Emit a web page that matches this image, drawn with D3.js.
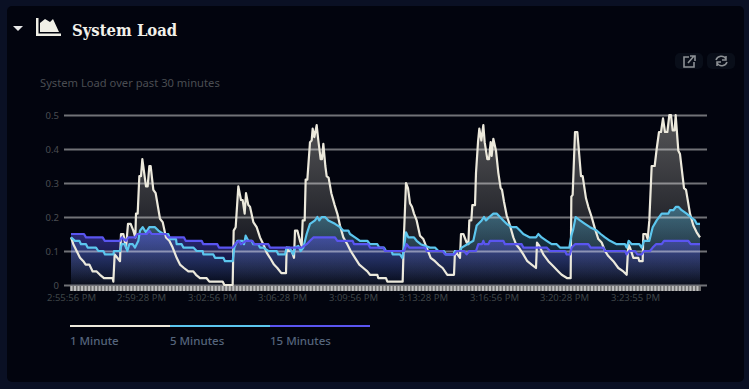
<!DOCTYPE html>
<html>
<head>
<meta charset="utf-8">
<script src="https://cdnjs.cloudflare.com/ajax/libs/d3/7.8.5/d3.min.js"></script>
<style>
  html, body { margin: 0; padding: 0; background: #0a1024; overflow: hidden; }
  text { font-family: "Noto Sans", "Open Sans", sans-serif; }
</style>
</head>
<body>
<div id="chart"></div>
<script>
// [elapsed, load], elapsed counts thirds of a pixel along the time axis
var oneMinute = [[0,.14],[7,.12],[17,.10],[27,.08],[37,.07],[44,.06],[55,.06],[65,.04],[77,.04],[87,.03],[99,.02],[125,.02],[127,.01],[131,.09],[139,.08],[147,.07],[150,.15],[157,.15],[165,.11],[171,.18],[179,.18],[187,.16],[193,.14],[195,.21],[200,.21],[205,.32],[210,.32],[214,.37],[225,.29],[230,.29],[235,.35],[239,.35],[247,.28],[254,.27],[267,.195],[275,.185],[285,.14],[295,.13],[305,.11],[317,.08],[327,.06],[339,.05],[352,.04],[367,.04],[375,.03],[387,.02],[407,.02],[415,.01],[455,.01],[460,0],[485,0],[488,.16],[494,.17],[502,.29],[510,.25],[515,.25],[521,.21],[525,.27],[532,.235],[537,.23],[547,.185],[557,.17],[567,.14],[577,.12],[587,.095],[597,.08],[609,.06],[619,.05],[631,.035],[645,.035],[647,.11],[652,.10],[662,.10],[669,.08],[672,.16],[679,.16],[687,.13],[692,.115],[695,.19],[701,.19],[704,.31],[709,.31],[717,.42],[722,.425],[725,.46],[730,.435],[737,.47],[742,.425],[749,.37],[753,.37],[757,.415],[763,.35],[767,.32],[773,.315],[781,.27],[791,.235],[799,.21],[807,.175],[817,.14],[829,.12],[839,.10],[852,.08],[865,.06],[877,.05],[889,.04],[897,.03],[919,.03],[922,.02],[945,.02],[949,.01],[995,.01],[999,.15],[1005,.30],[1011,.285],[1017,.24],[1023,.23],[1029,.21],[1037,.19],[1047,.145],[1057,.135],[1067,.11],[1079,.08],[1092,.07],[1102,.06],[1115,.05],[1129,.03],[1149,.03],[1152,.10],[1167,.08],[1170,.15],[1177,.15],[1187,.125],[1192,.12],[1195,.19],[1201,.19],[1204,.235],[1212,.235],[1215,.33],[1221,.42],[1225,.46],[1231,.425],[1237,.47],[1241,.42],[1249,.37],[1254,.37],[1259,.42],[1262,.38],[1267,.43],[1275,.395],[1282,.33],[1289,.285],[1293,.28],[1299,.245],[1307,.205],[1317,.175],[1327,.14],[1335,.12],[1347,.105],[1357,.09],[1369,.07],[1382,.06],[1395,.05],[1398,.125],[1405,.115],[1417,.09],[1432,.07],[1447,.055],[1462,.04],[1472,.03],[1489,.02],[1499,.02],[1501,.26],[1505,.265],[1512,.45],[1519,.45],[1525,.38],[1530,.32],[1535,.32],[1545,.255],[1552,.23],[1562,.20],[1572,.165],[1582,.135],[1592,.125],[1602,.10],[1612,.085],[1627,.07],[1642,.05],[1657,.04],[1667,.03],[1672,.12],[1677,.11],[1687,.08],[1702,.08],[1705,.07],[1715,.07],[1717,.15],[1725,.15],[1730,.135],[1735,.19],[1742,.35],[1751,.35],[1757,.40],[1764,.45],[1770,.45],[1776,.49],[1782,.45],[1789,.45],[1795,.50],[1800,.50],[1805,.455],[1811,.455],[1814,.50],[1822,.395],[1827,.385],[1839,.285],[1845,.28],[1857,.21],[1867,.175],[1877,.155],[1887,.14]];

var fiveMinutes = [[0,.14],[12,.13],[25,.13],[30,.12],[45,.12],[50,.11],[75,.11],[82,.10],[97,.10],[102,.09],[127,.09],[129,.10],[147,.10],[152,.12],[162,.12],[169,.10],[175,.12],[185,.12],[192,.11],[202,.13],[207,.16],[215,.17],[225,.155],[235,.17],[252,.17],[262,.16],[277,.15],[292,.15],[297,.135],[315,.135],[317,.12],[332,.12],[337,.11],[367,.11],[377,.10],[395,.10],[397,.09],[427,.09],[432,.08],[457,.08],[462,.07],[485,.07],[490,.11],[499,.13],[514,.13],[519,.12],[524,.145],[532,.13],[542,.13],[547,.12],[562,.12],[567,.11],[577,.11],[592,.10],[617,.10],[622,.09],[642,.09],[647,.11],[655,.11],[667,.09],[672,.11],[682,.115],[689,.10],[697,.11],[707,.15],[717,.18],[732,.19],[739,.20],[745,.19],[752,.20],[762,.20],[772,.19],[792,.18],[807,.17],[817,.16],[832,.16],[837,.15],[852,.14],[867,.13],[889,.13],[897,.12],[919,.12],[925,.11],[939,.11],[945,.10],[962,.10],[965,.09],[987,.09],[994,.08],[999,.11],[1005,.155],[1012,.14],[1029,.14],[1037,.13],[1049,.12],[1077,.11],[1092,.11],[1102,.10],[1119,.10],[1125,.09],[1147,.09],[1152,.10],[1167,.10],[1172,.11],[1189,.12],[1207,.13],[1217,.175],[1232,.19],[1239,.20],[1245,.19],[1255,.20],[1267,.21],[1277,.21],[1287,.20],[1297,.19],[1307,.18],[1322,.17],[1337,.17],[1347,.16],[1357,.15],[1377,.14],[1395,.14],[1402,.15],[1412,.14],[1427,.13],[1442,.12],[1457,.12],[1467,.11],[1495,.11],[1501,.145],[1507,.165],[1514,.20],[1527,.19],[1542,.18],[1557,.17],[1577,.16],[1589,.15],[1602,.14],[1617,.13],[1637,.12],[1662,.12],[1667,.11],[1673,.13],[1682,.12],[1705,.12],[1712,.11],[1719,.13],[1735,.13],[1745,.17],[1757,.19],[1772,.21],[1792,.21],[1797,.22],[1807,.22],[1815,.23],[1822,.23],[1832,.22],[1847,.21],[1859,.20],[1872,.19],[1877,.18],[1887,.18]];

var fifteenMinutes = [[0,.15],[39,.15],[45,.14],[95,.14],[101,.13],[147,.13],[152,.14],[165,.13],[172,.14],[192,.14],[199,.15],[227,.15],[235,.16],[242,.15],[285,.15],[292,.14],[339,.14],[344,.13],[392,.13],[397,.12],[439,.12],[444,.11],[485,.11],[497,.125],[504,.13],[510,.12],[525,.13],[544,.13],[550,.12],[592,.12],[597,.11],[692,.11],[707,.12],[717,.13],[727,.14],[792,.14],[799,.13],[845,.13],[849,.12],[892,.12],[897,.11],[937,.11],[942,.10],[999,.10],[1007,.12],[1015,.11],[1062,.11],[1067,.10],[1115,.10],[1122,.09],[1150,.09],[1157,.10],[1179,.10],[1187,.09],[1195,.10],[1215,.10],[1222,.12],[1233,.12],[1237,.13],[1241,.12],[1252,.12],[1257,.13],[1297,.13],[1302,.12],[1352,.12],[1357,.11],[1427,.11],[1437,.10],[1482,.10],[1487,.09],[1497,.09],[1502,.11],[1512,.12],[1552,.12],[1559,.11],[1597,.11],[1602,.10],[1662,.10],[1667,.09],[1674,.10],[1692,.10],[1699,.09],[1712,.09],[1719,.10],[1737,.10],[1745,.11],[1755,.12],[1772,.12],[1779,.13],[1852,.13],[1859,.12],[1887,.12]];

var timeTicks = [0,210,423,633,846,1056,1269,1479,1692];
var timeLabels = ['2:55:56 PM','2:59:28 PM','3:02:56 PM','3:06:28 PM','3:09:56 PM','3:13:28 PM','3:16:56 PM','3:20:28 PM','3:23:55 PM'];
var loadTicks = [0,0.1,0.2,0.3,0.4,0.5];
var seriesNames = ['1 Minute','5 Minutes','15 Minutes'];
var seriesColors = ['#ece9dc','#5cc6ee','#5a55f0'];
var seriesData = [oneMinute, fiveMinutes, fifteenMinutes];

var svg = d3.select("#chart").append("svg")
  .attr("width", 749)
  .attr("height", 389)
  .style("display", "block");

// card
svg.append("rect").attr("x", 7).attr("y", 6).attr("width", 737).attr("height", 376).attr("rx", 5).attr("fill", "#02040e");

// header
svg.append("path").attr("d", "M13 26h10l-5 5z").attr("fill", "#e8e8e8");
svg.append("path").attr("d", "M36 18h2.5v15.5H61V36H36z").attr("fill", "#f0efe6");
svg.append("path").attr("d", "M40 32v-9l5-4 5 3 3-3 6 13z").attr("fill", "#f0efe6");
svg.append("text").attr("x", 72).attr("y", 36)
  .style("font-family", "'DejaVu Serif Condensed', 'DejaVu Serif', serif")
  .style("font-weight", "bold").style("font-size", "16.5px")
  .attr("fill", "#f2f1ea").text("System Load");
svg.append("text").attr("x", 40).attr("y", 87)
  .style("font-size", "11.2px").attr("fill", "#4a4d52")
  .text("System Load over past 30 minutes");

// the two buttons top right
svg.append("rect").attr("x", 675).attr("y", 53).attr("width", 28).attr("height", 16).attr("rx", 5).attr("fill", "#090e19");
svg.append("rect").attr("x", 707).attr("y", 53).attr("width", 28).attr("height", 16).attr("rx", 5).attr("fill", "#090e19");
svg.append("path").attr("d", "M689 57h-5v10h10v-5M688 63l6-7M690 56h5v5")
  .attr("fill", "none").attr("stroke", "#8e9296").attr("stroke-width", 1.6);
svg.append("path").attr("d", "M716 60a5.5 5.5 0 0 1 10-1M726 56v4h-4M727 62a5.5 5.5 0 0 1-10 1M717 66v-4h4")
  .attr("fill", "none").attr("stroke", "#8e9296").attr("stroke-width", 1.5);

// scales
var x = d3.scaleLinear().domain([0, 1887]).range([71, 700]);
var y = d3.scaleLinear().domain([0, 0.5]).range([285, 115]);

var defs = svg.append("defs");
var fillTop = [0.36, 0.4, 0.5];
seriesColors.forEach(function(c, i) {
  var g = defs.append("linearGradient")
    .attr("id", "fade" + i)
    .attr("gradientUnits", "userSpaceOnUse")
    .attr("x1", 0).attr("x2", 0)
    .attr("y1", y(d3.max(seriesData[i], function(d) { return d[1]; })))
    .attr("y2", y(0));
  g.append("stop").attr("offset", "0%").attr("stop-color", c).attr("stop-opacity", fillTop[i]);
  g.append("stop").attr("offset", "100%").attr("stop-color", c).attr("stop-opacity", 0.02);
});

var area = d3.area()
  .x(function(d) { return x(d[0]); })
  .y0(y(0))
  .y1(function(d) { return y(d[1]); });
var line = d3.line()
  .x(function(d) { return x(d[0]); })
  .y(function(d) { return y(d[1]); });

svg.append("g").selectAll("path")
  .data(seriesData)
  .enter().append("path")
    .attr("d", area)
    .attr("fill", function(d, i) { return "url(#fade" + i + ")"; });

// gridlines sit over the fills
var yAxis = svg.append("g")
  .attr("transform", "translate(64,0)")
  .call(d3.axisLeft(y).tickValues(loadTicks).tickSize(-643).tickPadding(5)
    .tickFormat(function(d) { return d === 0 ? "0" : d3.format(".1f")(d); }));
yAxis.select(".domain").remove();
yAxis.selectAll("line").attr("stroke", "#fff").attr("stroke-opacity", 0.44).attr("stroke-width", 2);
yAxis.selectAll("text").style("font-size", "9.5px").attr("fill", "#4a4d52");

svg.append("g").selectAll("path")
  .data(seriesData)
  .enter().append("path")
    .attr("d", line)
    .attr("fill", "none")
    .attr("stroke-width", 2.2)
    .attr("stroke-linejoin", "round")
    .attr("stroke", function(d, i) { return seriesColors[i]; });

// time axis: a dense stripe of small ticks, only every so many has a label
svg.append("rect").attr("x", 70).attr("y", 286).attr("width", 631).attr("height", 5).attr("fill", "#6e6e6e");
var stripes = svg.append("g")
  .attr("transform", "translate(0,286)")
  .call(d3.axisBottom(x).tickValues(d3.range(0, 1888, 10.55)).tickSize(5).tickFormat(""));
stripes.select(".domain").remove();
stripes.selectAll("line").attr("stroke", "#bdbdbd").attr("stroke-width", 2);

var xAxis = svg.append("g")
  .attr("transform", "translate(0,291)")
  .call(d3.axisBottom(x).tickValues(timeTicks).tickSize(0).tickPadding(3)
    .tickFormat(function(d, i) { return timeLabels[i]; }));
xAxis.select(".domain").remove();
xAxis.selectAll("text").style("font-size", "9.5px").attr("fill", "#3f4448");

// legend
var legendX = d3.scaleBand().domain(seriesNames).range([70, 370]);
var legend = svg.append("g").selectAll("g")
  .data(seriesNames)
  .enter().append("g")
    .attr("transform", function(d) { return "translate(" + legendX(d) + ",0)"; });
legend.append("rect")
  .attr("y", 325).attr("width", legendX.bandwidth()).attr("height", 2)
  .attr("fill", function(d, i) { return seriesColors[i]; });
legend.append("text")
  .attr("y", 345)
  .style("font-size", "11.5px")
  .style("font-weight", 500)
  .attr("fill", "#55657c")
  .text(function(d) { return d; });
</script>
</body>
</html>
